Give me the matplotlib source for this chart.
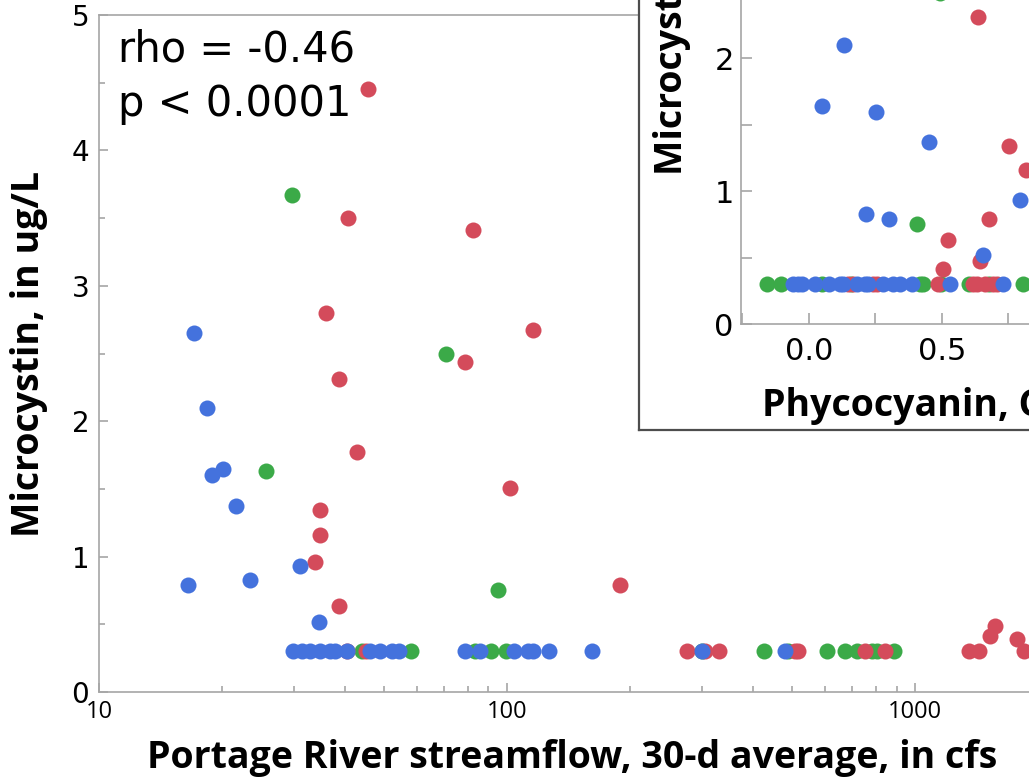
import matplotlib
matplotlib.use("Agg")
import matplotlib.pyplot as plt
from matplotlib.ticker import FixedLocator, NullFormatter, MultipleLocator

# ---------------- dados: painel principal (vazao x microcistina) ----------------
vazao_azul = [17.1, 18.4, 20.1, 18.9, 21.7, 31.1, 16.5, 23.4, 34.5,
              29.9, 31.4, 32.9, 34.8, 36.8, 37.9, 40.5, 46.2, 48.8, 52.2, 54.2,
              78.9, 85.9, 104, 112.8, 115.6, 126.3, 161.3, 300, 480]
mc_azul = [2.65, 2.10, 1.645, 1.60, 1.375, 0.933, 0.79, 0.825, 0.52,
           0.3, 0.3, 0.3, 0.3, 0.3, 0.3, 0.3, 0.3, 0.3, 0.3, 0.3,
           0.3, 0.3, 0.3, 0.3, 0.3, 0.3, 0.3, 0.3, 0.3]

vazao_vermelho = [40.8, 45.7, 35.9, 38.8, 78.8, 82.7, 115.6, 101.7, 42.8, 34.8, 34.8,
                  33.8, 38.8, 189, 1527, 1570, 1775,
                  40.5, 45.1, 275.7, 305.7, 330, 508, 517, 754, 844, 1351, 1429, 1843]
mc_vermelho = [3.50, 4.45, 2.80, 2.31, 2.44, 3.41, 2.67, 1.51, 1.77, 1.344, 1.16,
               0.962, 0.635, 0.79, 0.41, 0.49, 0.39,
               0.3, 0.3, 0.3, 0.3, 0.3, 0.3, 0.3, 0.3, 0.3, 0.3, 0.3, 0.3]

vazao_verde = [29.7, 70.7, 25.7, 95.2,
               44.0, 58.1, 83.5, 91.2, 99.4, 300, 425, 488, 608, 674, 720, 783, 806, 885]
mc_verde = [3.67, 2.50, 1.63, 0.753,
            0.3, 0.3, 0.3, 0.3, 0.3, 0.3, 0.3, 0.3, 0.3, 0.3, 0.3, 0.3, 0.3, 0.3]

# ---------------- dados: painel inserido (ficocianina x microcistina) ----------------
fico_azul = [0.133, 0.049, 0.253, 0.453, 0.794, 0.215, 0.302, 0.655,
             -0.058, -0.039, -0.026, 0.024, 0.077, 0.118, 0.130, 0.180, 0.212, 0.224,
             0.280, 0.318, 0.343, 0.387, 0.531, 0.732]
mc_fico_azul = [2.10, 1.64, 1.60, 1.373, 0.934, 0.828, 0.79, 0.517,
                0.3, 0.3, 0.3, 0.3, 0.3, 0.3, 0.3, 0.3, 0.3, 0.3,
                0.3, 0.3, 0.3, 0.3, 0.3, 0.3]

fico_vermelho = [0.635, 0.754, 0.817, 0.679, 0.523, 0.645, 0.506,
                 0.149, 0.168, 0.243, 0.256, 0.487, 0.619, 0.634, 0.663, 0.694, 0.707]
mc_fico_vermelho = [2.31, 1.34, 1.16, 0.79, 0.633, 0.477, 0.414,
                    0.3, 0.3, 0.3, 0.3, 0.3, 0.3, 0.3, 0.3, 0.3, 0.3]

fico_verde = [0.494, 0.406,
              -0.158, -0.105, 0.049, 0.159, 0.418, 0.431, 0.497, 0.604, 0.679, 0.805]
mc_fico_verde = [2.49, 0.75,
                 0.3, 0.3, 0.3, 0.3, 0.3, 0.3, 0.3, 0.3, 0.3, 0.3]

azul = "#4472DD"
vermelho = "#D44B5B"
verde = "#3BAA48"
cinza = "#A6A6A6"
tam = 133

W, H = 1029, 778
fig = plt.figure(figsize=(W / 100, H / 100), dpi=100)

# painel principal --------------------------------------------------------------
ax = fig.add_axes([99 / W, 86 / H, 1011 / W, 677 / H])
ax.scatter(vazao_verde, mc_verde, s=tam, color=verde, linewidths=0, zorder=3)
ax.scatter(vazao_vermelho, mc_vermelho, s=tam, color=vermelho, linewidths=0, zorder=3)
ax.scatter(vazao_azul, mc_azul, s=tam, color=azul, linewidths=0, zorder=3)
ax.set_xscale("log")
ax.set_xlim(10, 3000)
ax.set_ylim(0, 5)
ax.xaxis.set_major_locator(FixedLocator([10, 100, 1000]))
ax.set_xticklabels(["10", "100", "1000"], fontsize=17, family="Open Sans")
ax.xaxis.set_minor_formatter(NullFormatter())
ax.yaxis.set_major_locator(MultipleLocator(1))
ax.yaxis.set_minor_locator(MultipleLocator(0.5))
ax.set_yticks(range(6))
ax.set_yticklabels([str(v) for v in range(6)], fontsize=20)
ax.tick_params(which="both", direction="in", color=cinza, width=1.2)
ax.tick_params(which="major", length=6.5)
ax.tick_params(which="minor", length=4)
ax.tick_params(axis="x", pad=6)
ax.tick_params(axis="y", pad=7)
for lado in ax.spines.values():
    lado.set_color(cinza)
    lado.set_linewidth(1.2)
ax.set_xlabel("Portage River streamflow, 30-d average, in cfs",
              fontsize=27, fontweight="bold", family="Open Sans")
ax.xaxis.set_label_coords((572 - 99) / 1011, -0.069)
ax.set_ylabel("Microcystin, in ug/L", fontsize=27, fontweight="bold",
              family="Open Sans", va="center")
ax.yaxis.set_label_coords(-0.069, 0.5)

fig.text(118 / W, 1 - 28 / H, "rho = -0.46\np < 0.0001", fontsize=30,
         va="top", ha="left", linespacing=1.4)

# moldura do painel inserido ----------------------------------------------------
moldura = fig.add_axes([639 / W, (H - 430) / H, 800 / W, 800 / H])
moldura.set_facecolor("white")
moldura.set_xticks([])
moldura.set_yticks([])
for lado in moldura.spines.values():
    lado.set_color("#4D4D4D")
    lado.set_linewidth(1.6)

# painel inserido ---------------------------------------------------------------
ins = fig.add_axes([740.7 / W, (H - 324) / H, 467 / W, 664 / H])
ins.set_facecolor("white")
ins.scatter(fico_verde, mc_fico_verde, s=tam, color=verde, linewidths=0, zorder=3)
ins.scatter(fico_vermelho, mc_fico_vermelho, s=tam, color=vermelho, linewidths=0, zorder=3)
ins.scatter(fico_azul, mc_fico_azul, s=tam, color=azul, linewidths=0, zorder=3)
ins.set_xlim(-0.256, 1.5)
ins.set_ylim(0, 5)
ins.set_xticks([0.0, 0.5, 1.0, 1.5])
ins.set_xticklabels(["0.0", "0.5", "1.0", "1.5"], fontsize=22)
ins.xaxis.set_minor_locator(MultipleLocator(0.25))
ins.set_yticks(range(6))
ins.set_yticklabels([str(v) for v in range(6)], fontsize=22)
ins.yaxis.set_minor_locator(MultipleLocator(0.5))
ins.tick_params(which="both", direction="in", color=cinza, width=1.2)
ins.tick_params(which="major", length=8)
ins.tick_params(which="minor", length=8)
ins.tick_params(axis="x", pad=9)
ins.tick_params(axis="y", pad=5)
for lado in ins.spines.values():
    lado.set_color(cinza)
    lado.set_linewidth(1.2)
ins.set_xlabel("Phycocyanin, CI", fontsize=27, fontweight="bold",
               family="Open Sans", ha="left")
ins.xaxis.set_label_coords((762 - 740.7) / 467, -0.095)
ins.set_ylabel("Microcystin, in ug/L", fontsize=27, fontweight="bold",
               family="Open Sans", va="center")
ins.yaxis.set_label_coords((672 - 740.7) / 467, 0.5)

fig.savefig("out.png", dpi=100)
